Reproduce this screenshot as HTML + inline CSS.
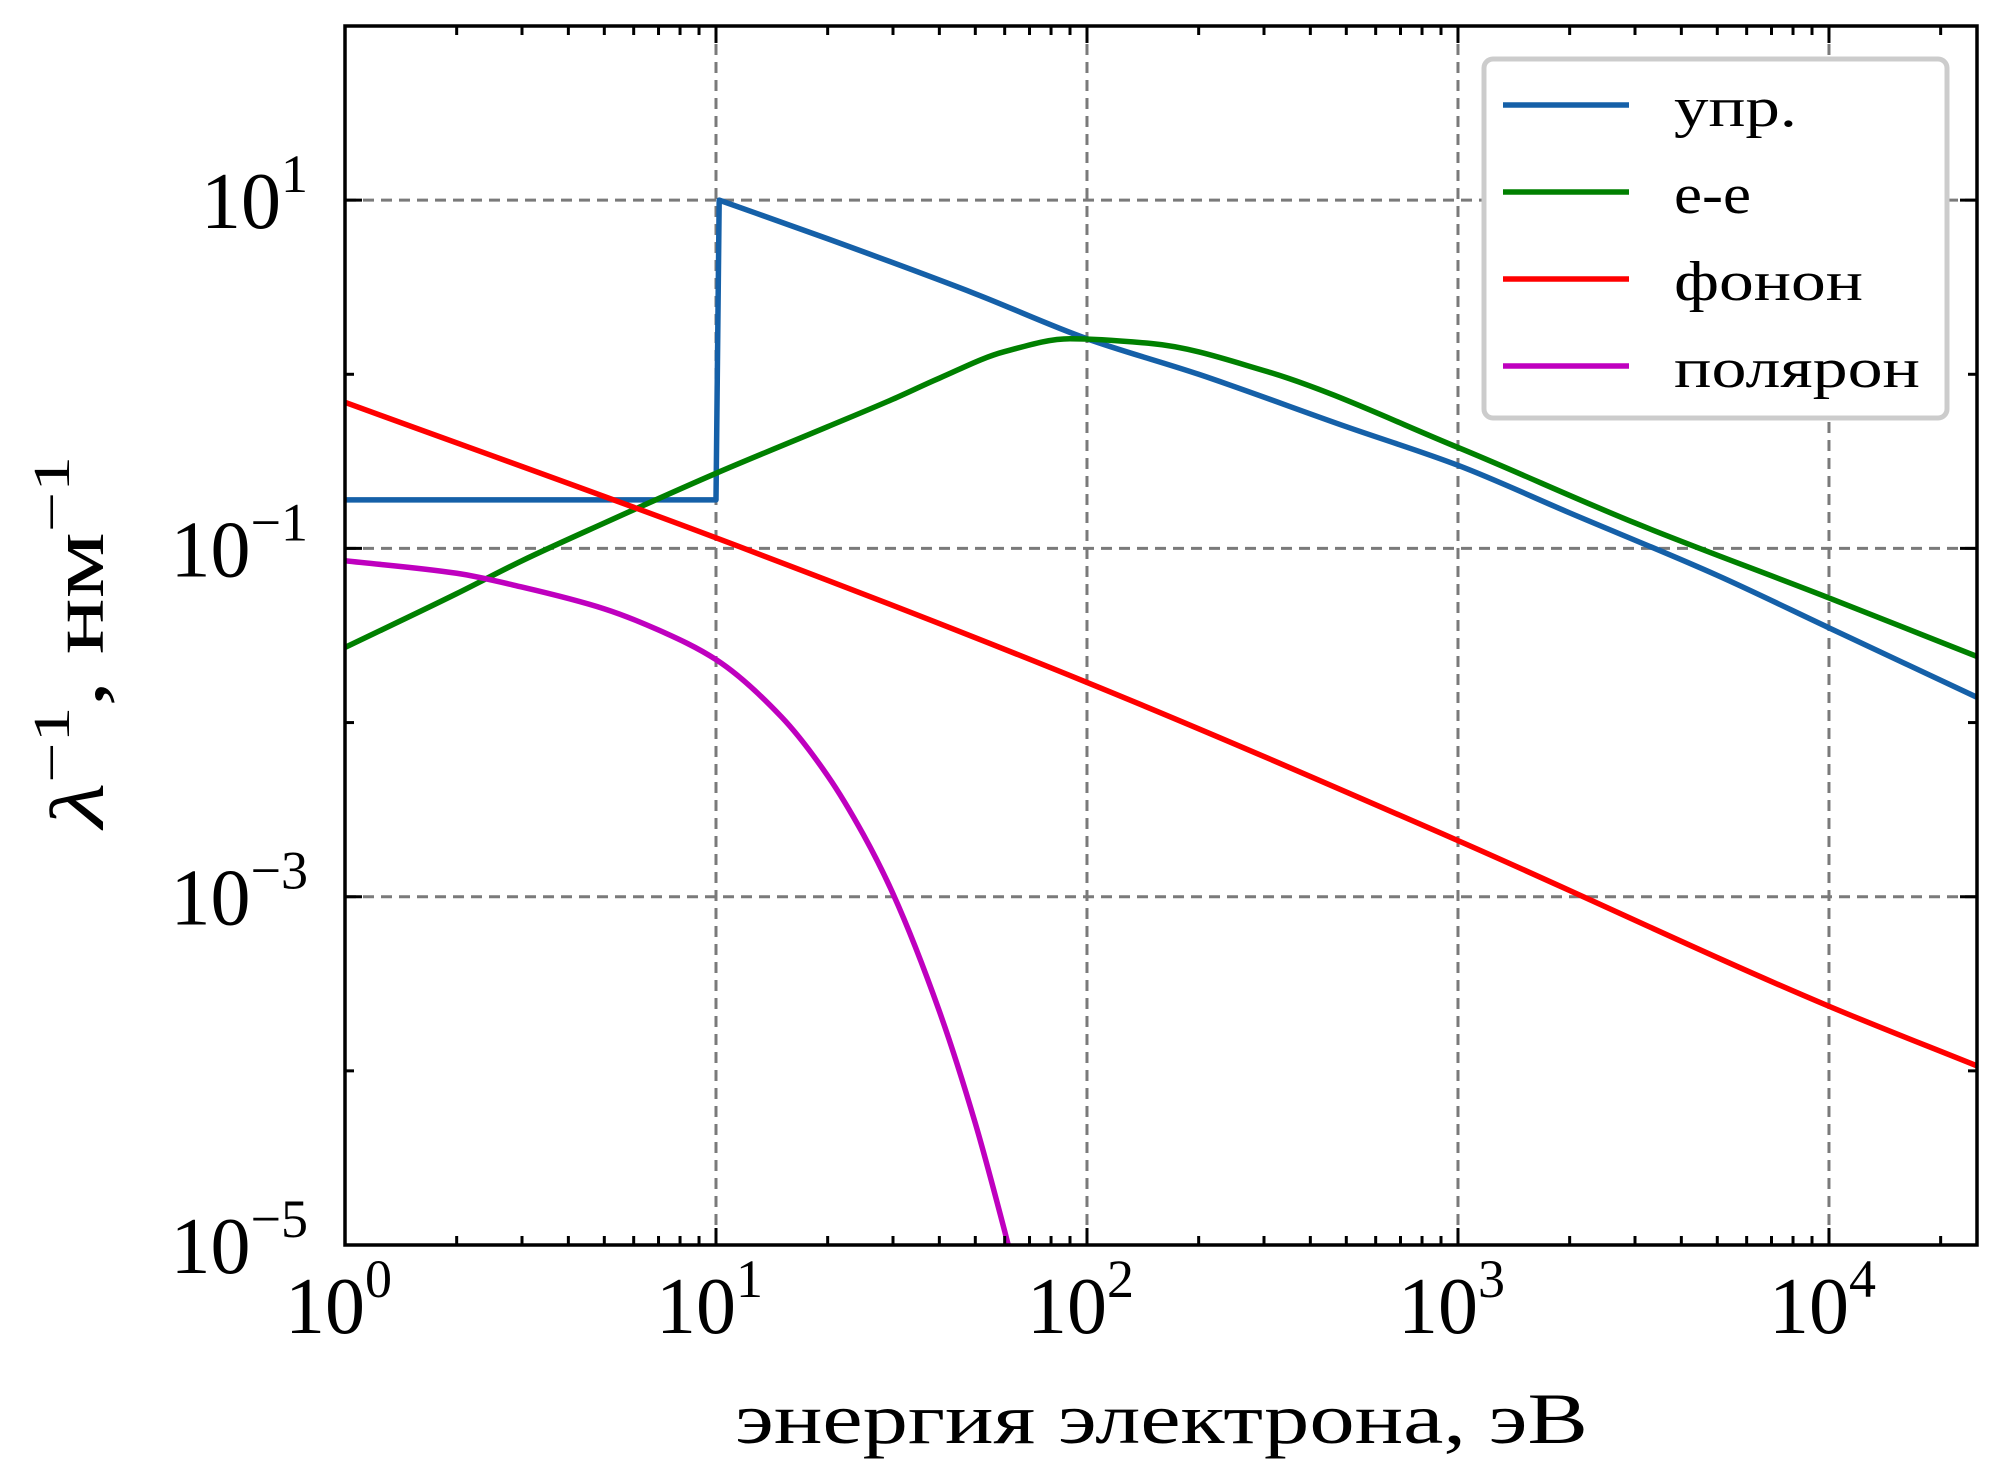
<!DOCTYPE html>
<html><head><meta charset="utf-8"><style>
html,body{margin:0;padding:0;background:#fff;}
svg{display:block;}
text{font-family:"Liberation Serif","DejaVu Serif",serif;fill:#000;}
</style></head>
<body>
<svg id="chart" width="2001" height="1482" viewBox="0 0 2001 1482" xmlns="http://www.w3.org/2000/svg">
<rect width="2001" height="1482" fill="#fff"/>
<g id="grid"></g>
<g id="series"></g>
<rect x="345" y="26" width="1632" height="1219" fill="none" stroke="#000" stroke-width="3.5"/>
<g id="ticks"></g>
<g id="labels"></g>
<text x="735" y="1443" font-size="72" textLength="853" lengthAdjust="spacingAndGlyphs">энергия электрона, эВ</text>
<text transform="translate(103,828) rotate(-90)" font-size="76" textLength="372" lengthAdjust="spacingAndGlyphs"><tspan font-style="italic">λ</tspan><tspan font-size="52" dy="-34">−1</tspan><tspan dy="34">, нм</tspan><tspan font-size="52" dy="-34">−1</tspan></text>
<g id="legend">
<rect x="1484" y="59" width="463" height="359" rx="9" fill="#fff" stroke="#cccccc" stroke-width="5"/>
</g>
</svg>
<script>
const xMinLog = 0, xMaxLog = 4.399;
const yMinLog = -5, yMaxLog = 2;
const seriesNames = ["упр.", "e-e", "фонон", "поляpон"];
const seriesColors = ["#1560a8", "#008000", "#ff0000", "#bf00bf"];
const elasticX = [1, 10, 10.2, 20, 50, 100, 200, 500, 1000, 2000, 5000, 10000, 25000];
const elasticY = [0.19, 0.19, 10, 6.0, 2.9, 1.6, 1.0, 0.5, 0.3, 0.16, 0.07, 0.035, 0.014];
const eeX = [1, 2, 3, 5, 10, 20, 30, 40, 60, 90, 150, 300, 1000, 3000, 10000, 25000];
const eeY = [0.027, 0.055, 0.085, 0.14, 0.27, 0.5, 0.72, 0.95, 1.35, 1.6, 1.5, 1.05, 0.38, 0.14, 0.052, 0.024];
const phononX = [1, 10, 100, 1000, 10000, 25000];
const phononY = [0.69, 0.115, 0.017, 0.0021, 0.000235, 0.000107];
const polaronX = [1, 2, 3, 5, 7, 10, 15, 20, 25, 30, 40, 50, 60, 66];
const polaronY = [0.085, 0.072, 0.060, 0.045, 0.034, 0.023, 0.0108, 0.00495, 0.00226, 0.00104, 0.00022, 0.00005, 0.000012, 0.0000054];
const xTickExps = [0, 1, 2, 3, 4];
const yTickExps = [1, -1, -3, -5];

const L = 345, R = 1977, T = 26, B = 1245;
const NS = "http://www.w3.org/2000/svg";
function xs(v) { return L + (Math.log10(v) - xMinLog) / (xMaxLog - xMinLog) * (R - L); }
function ys(v) { return B - (Math.log10(v) - yMinLog) / (yMaxLog - yMinLog) * (B - T); }
function mk(tag, attrs, parent) {
  const e = document.createElementNS(NS, tag);
  for (const k in attrs) e.setAttribute(k, attrs[k]);
  parent.appendChild(e);
  return e;
}
const grid = document.getElementById('grid');
const ticks = document.getElementById('ticks');
const labels = document.getElementById('labels');
const series = document.getElementById('series');
const legend = document.getElementById('legend');

for (const e of xTickExps) {
  if (e === 0) continue;
  const x = xs(Math.pow(10, e));
  const g = mk('line', {x1: x, x2: x, y1: T, y2: B, stroke: '#7a7a7a', 'stroke-width': 3, 'stroke-dasharray': '11,7'}, grid);
  
  
}
for (const e of yTickExps) {
  if (e === -5) continue;
  const y = ys(Math.pow(10, e));
  const g = mk('line', {x1: L, x2: R, y1: y, y2: y, stroke: '#7a7a7a', 'stroke-width': 3, 'stroke-dasharray': '11,7'}, grid);
  
  
}
for (let d = 0; d <= 4; d++) {
  for (let m = 1; m <= 9; m++) {
    const v = m * Math.pow(10, d);
    if (Math.log10(v) > xMaxLog) break;
    const x = xs(v);
    const len = m === 1 ? 17 : 9;
    const t1 = mk('line', {x1: x, x2: x, y1: B, y2: B - len, stroke: '#000', 'stroke-width': 3}, ticks);
    
    
    const t2 = mk('line', {x1: x, x2: x, y1: T, y2: T + len, stroke: '#000', 'stroke-width': 3}, ticks);
    
    
  }
}
for (let e = yMinLog; e <= yMaxLog; e++) {
  const y = ys(Math.pow(10, e));
  const major = yTickExps.includes(e);
  const len = major ? 17 : 9;
  const t1 = mk('line', {x1: L, x2: L + len, y1: y, y2: y, stroke: '#000', 'stroke-width': 3}, ticks);
  
  
  const t2 = mk('line', {x1: R, x2: R - len, y1: y, y2: y, stroke: '#000', 'stroke-width': 3}, ticks);
  
  
}
for (const e of xTickExps) {
  const x = xs(Math.pow(10, e));
  const t = mk('text', {x: x - 60, y: 1333, 'font-size': 80}, labels);
  
  
  t.innerHTML = '10<tspan font-size="54" dy="-36">' + e + '</tspan>';
}
for (const e of yTickExps) {
  const y = ys(Math.pow(10, e));
  const t = mk('text', {x: 308, y: y + 28, 'font-size': 80, 'text-anchor': 'end'}, labels);
  
  
  t.innerHTML = '10<tspan font-size="54" dy="-36">' + (e < 0 ? '−' + (-e) : e) + '</tspan>';
}
function monoPath(px, py) {
  const n = px.length;
  if (n < 3) return px.map((x, i) => (i ? 'L' : 'M') + x + ',' + py[i]).join(' ');
  const dx = [], dl = [], m = new Array(n);
  for (let i = 0; i < n - 1; i++) { dx.push(px[i + 1] - px[i]); dl.push((py[i + 1] - py[i]) / (px[i + 1] - px[i])); }
  m[0] = dl[0]; m[n - 1] = dl[n - 2];
  for (let i = 1; i < n - 1; i++) {
    if (dl[i - 1] * dl[i] <= 0) m[i] = 0;
    else { const w1 = 2 * dx[i] + dx[i - 1], w2 = dx[i] + 2 * dx[i - 1]; m[i] = (w1 + w2) / (w1 / dl[i - 1] + w2 / dl[i]); }
  }
  let d = 'M' + px[0] + ',' + py[0];
  for (let i = 0; i < n - 1; i++) {
    const h = dx[i];
    d += ' C' + (px[i] + h / 3) + ',' + (py[i] + m[i] * h / 3) + ' ' + (px[i + 1] - h / 3) + ',' + (py[i + 1] - m[i + 1] * h / 3) + ' ' + px[i + 1] + ',' + py[i + 1];
  }
  return d;
}
const allX = [elasticX, eeX, phononX, polaronX];
const allY = [elasticY, eeY, phononY, polaronY];
const seriesKeys = ['elastic', 'electron-electron', 'phonon', 'polaron'];
const clip = mk('clipPath', {id: 'plotclip'}, series);
mk('rect', {x: L, y: T, width: R - L, height: B - T}, clip);
for (let s = 0; s < 4; s++) {
  const px = allX[s].map(xs), py = allY[s].map(ys);
  let d;
  if (s === 0) {
    d = 'M' + px[0] + ',' + py[0] + ' L' + px[1] + ',' + py[1] + ' L' + px[2] + ',' + py[2] + ' ' + monoPath(px.slice(2), py.slice(2)).replace(/^M[^ ]+/, '');
  } else d = monoPath(px, py);
  const p = mk('path', {d: d, fill: 'none', stroke: seriesColors[s], 'stroke-width': 5.5, 'stroke-linejoin': 'round', 'clip-path': 'url(#plotclip)'}, series);
  
  
}
const legW = [123, 77, 189, 246];
for (let s = 0; s < 4; s++) {
  const y = 105 + s * 87;
  const ln = mk('line', {x1: 1503, x2: 1629, y1: y, y2: y, stroke: seriesColors[s], 'stroke-width': 5.5}, legend);
  
  
  const t = mk('text', {x: 1674, y: y + 21, 'font-size': 56, textLength: legW[s], lengthAdjust: 'spacingAndGlyphs'}, legend);
  
  
  t.textContent = seriesNames[s];
}
</script>
</body></html>
